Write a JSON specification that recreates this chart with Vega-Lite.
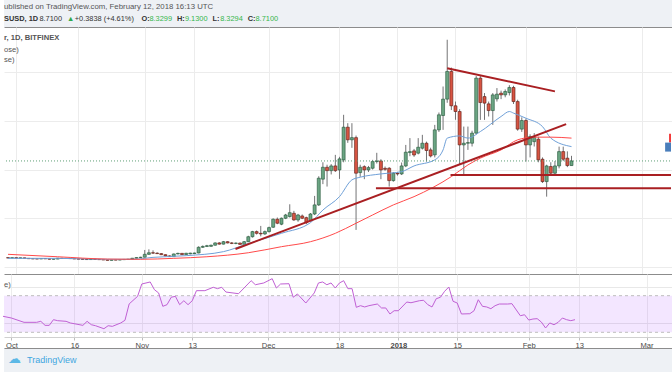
{
"$schema": "https://vega.github.io/schema/vega-lite/v6.json",
"background": "#ffffff",
"padding": 0,
"spacing": 0,
"bounds": "flush",
"config": {"view": {"stroke": null}, "font": "Liberation Sans", "text": {"font": "Liberation Sans"}},
"resolve": {"scale": {"x": "independent", "y": "independent"}},
"datasets": {
"candles": [
{"d":"2017-09-29","o":0.74,"h":0.79,"l":0.70,"c":0.72},
{"d":"2017-09-30","o":0.72,"h":0.76,"l":0.70,"c":0.74},
{"d":"2017-10-01","o":0.74,"h":0.76,"l":0.69,"c":0.71},
{"d":"2017-10-02","o":0.71,"h":0.75,"l":0.69,"c":0.73},
{"d":"2017-10-03","o":0.73,"h":0.74,"l":0.67,"c":0.69},
{"d":"2017-10-04","o":0.69,"h":0.71,"l":0.65,"c":0.66},
{"d":"2017-10-05","o":0.66,"h":0.68,"l":0.63,"c":0.65},
{"d":"2017-10-06","o":0.65,"h":0.67,"l":0.63,"c":0.64},
{"d":"2017-10-07","o":0.64,"h":0.68,"l":0.63,"c":0.67},
{"d":"2017-10-08","o":0.67,"h":0.69,"l":0.64,"c":0.65},
{"d":"2017-10-09","o":0.65,"h":0.66,"l":0.60,"c":0.62},
{"d":"2017-10-10","o":0.62,"h":0.64,"l":0.60,"c":0.63},
{"d":"2017-10-11","o":0.63,"h":0.72,"l":0.62,"c":0.70},
{"d":"2017-10-12","o":0.70,"h":0.72,"l":0.66,"c":0.68},
{"d":"2017-10-13","o":0.68,"h":0.71,"l":0.66,"c":0.69},
{"d":"2017-10-14","o":0.69,"h":0.71,"l":0.66,"c":0.67},
{"d":"2017-10-15","o":0.67,"h":0.69,"l":0.63,"c":0.64},
{"d":"2017-10-16","o":0.64,"h":0.66,"l":0.62,"c":0.63},
{"d":"2017-10-17","o":0.63,"h":0.65,"l":0.60,"c":0.61},
{"d":"2017-10-18","o":0.61,"h":0.62,"l":0.57,"c":0.59},
{"d":"2017-10-19","o":0.59,"h":0.65,"l":0.58,"c":0.63},
{"d":"2017-10-20","o":0.63,"h":0.64,"l":0.59,"c":0.60},
{"d":"2017-10-21","o":0.60,"h":0.62,"l":0.57,"c":0.58},
{"d":"2017-10-22","o":0.58,"h":0.59,"l":0.55,"c":0.56},
{"d":"2017-10-23","o":0.56,"h":0.58,"l":0.52,"c":0.53},
{"d":"2017-10-24","o":0.53,"h":0.57,"l":0.52,"c":0.56},
{"d":"2017-10-25","o":0.56,"h":0.58,"l":0.54,"c":0.55},
{"d":"2017-10-26","o":0.55,"h":0.59,"l":0.54,"c":0.58},
{"d":"2017-10-27","o":0.58,"h":0.61,"l":0.57,"c":0.60},
{"d":"2017-10-28","o":0.60,"h":0.63,"l":0.58,"c":0.62},
{"d":"2017-10-29","o":0.62,"h":0.72,"l":0.61,"c":0.70},
{"d":"2017-10-30","o":0.70,"h":0.78,"l":0.68,"c":0.75},
{"d":"2017-10-31","o":0.75,"h":0.82,"l":0.72,"c":0.78},
{"d":"2017-11-01","o":0.78,"h":1.38,"l":0.75,"c":1.02},
{"d":"2017-11-02","o":1.02,"h":1.43,"l":0.98,"c":1.15},
{"d":"2017-11-03","o":1.15,"h":1.35,"l":1.05,"c":1.12},
{"d":"2017-11-04","o":1.12,"h":1.18,"l":1.04,"c":1.08},
{"d":"2017-11-05","o":1.08,"h":1.12,"l":0.96,"c":0.99},
{"d":"2017-11-06","o":0.99,"h":1.02,"l":0.86,"c":0.89},
{"d":"2017-11-07","o":0.89,"h":0.94,"l":0.80,"c":0.83},
{"d":"2017-11-08","o":0.83,"h":1.08,"l":0.82,"c":1.05},
{"d":"2017-11-09","o":1.05,"h":1.15,"l":1.02,"c":1.10},
{"d":"2017-11-10","o":1.10,"h":1.13,"l":0.96,"c":1.00},
{"d":"2017-11-11","o":1.00,"h":1.14,"l":0.98,"c":1.11},
{"d":"2017-11-12","o":1.06,"h":1.15,"l":1.02,"c":1.12},
{"d":"2017-11-13","o":1.08,"h":1.16,"l":1.05,"c":1.13},
{"d":"2017-11-14","o":1.13,"h":1.68,"l":1.10,"c":1.60},
{"d":"2017-11-15","o":1.60,"h":1.75,"l":1.55,"c":1.67},
{"d":"2017-11-16","o":1.67,"h":1.80,"l":1.62,"c":1.73},
{"d":"2017-11-17","o":1.68,"h":1.82,"l":1.64,"c":1.77},
{"d":"2017-11-18","o":1.77,"h":2.00,"l":1.74,"c":1.96},
{"d":"2017-11-19","o":1.96,"h":2.02,"l":1.82,"c":1.86},
{"d":"2017-11-20","o":1.86,"h":2.12,"l":1.83,"c":2.06},
{"d":"2017-11-21","o":2.06,"h":2.10,"l":1.92,"c":1.96},
{"d":"2017-11-22","o":1.96,"h":2.02,"l":1.86,"c":1.92},
{"d":"2017-11-23","o":1.92,"h":1.99,"l":1.85,"c":1.95},
{"d":"2017-11-24","o":1.95,"h":1.98,"l":1.80,"c":1.84},
{"d":"2017-11-25","o":1.84,"h":2.12,"l":1.80,"c":2.06},
{"d":"2017-11-26","o":2.06,"h":2.55,"l":2.02,"c":2.47},
{"d":"2017-11-27","o":2.47,"h":2.95,"l":2.40,"c":2.89},
{"d":"2017-11-28","o":2.89,"h":2.98,"l":2.65,"c":2.75},
{"d":"2017-11-29","o":2.75,"h":3.36,"l":2.50,"c":2.70},
{"d":"2017-11-30","o":2.70,"h":2.98,"l":2.62,"c":2.89},
{"d":"2017-12-01","o":2.89,"h":3.30,"l":2.82,"c":3.22},
{"d":"2017-12-02","o":3.25,"h":3.98,"l":3.20,"c":3.91},
{"d":"2017-12-03","o":3.91,"h":4.05,"l":3.50,"c":3.58},
{"d":"2017-12-04","o":3.50,"h":4.05,"l":3.42,"c":3.99},
{"d":"2017-12-05","o":3.99,"h":4.35,"l":3.92,"c":4.26},
{"d":"2017-12-06","o":4.13,"h":5.14,"l":4.05,"c":4.45},
{"d":"2017-12-07","o":4.40,"h":4.60,"l":3.78,"c":3.85},
{"d":"2017-12-08","o":3.85,"h":4.35,"l":3.70,"c":4.26},
{"d":"2017-12-09","o":4.18,"h":4.30,"l":3.92,"c":3.99},
{"d":"2017-12-10","o":4.04,"h":4.12,"l":3.50,"c":3.63},
{"d":"2017-12-11","o":3.80,"h":4.42,"l":3.72,"c":4.34},
{"d":"2017-12-12","o":4.34,"h":5.83,"l":4.25,"c":5.09},
{"d":"2017-12-13","o":5.09,"h":7.45,"l":5.00,"c":7.29},
{"d":"2017-12-14","o":7.21,"h":8.60,"l":6.80,"c":8.19},
{"d":"2017-12-15","o":8.19,"h":8.40,"l":6.60,"c":7.91},
{"d":"2017-12-16","o":7.91,"h":8.45,"l":7.60,"c":8.30},
{"d":"2017-12-17","o":8.30,"h":9.21,"l":7.80,"c":7.91},
{"d":"2017-12-18","o":7.97,"h":9.05,"l":7.23,"c":8.88},
{"d":"2017-12-19","o":8.80,"h":12.51,"l":8.60,"c":11.49},
{"d":"2017-12-20","o":11.49,"h":11.82,"l":10.20,"c":10.45},
{"d":"2017-12-21","o":10.45,"h":11.82,"l":9.79,"c":10.63},
{"d":"2017-12-22","o":10.63,"h":10.80,"l":3.03,"c":7.70},
{"d":"2017-12-23","o":7.75,"h":8.40,"l":7.40,"c":8.19},
{"d":"2017-12-24","o":8.24,"h":8.35,"l":7.21,"c":7.97},
{"d":"2017-12-25","o":7.97,"h":8.30,"l":7.80,"c":8.16},
{"d":"2017-12-26","o":8.11,"h":8.80,"l":8.00,"c":8.66},
{"d":"2017-12-27","o":8.66,"h":9.38,"l":8.50,"c":8.71},
{"d":"2017-12-28","o":8.71,"h":8.85,"l":7.21,"c":7.97},
{"d":"2017-12-29","o":8.10,"h":8.25,"l":7.90,"c":8.02},
{"d":"2017-12-30","o":8.11,"h":8.20,"l":6.60,"c":7.09},
{"d":"2017-12-31","o":7.09,"h":7.80,"l":7.00,"c":7.70},
{"d":"2018-01-01","o":7.70,"h":7.80,"l":7.50,"c":7.64},
{"d":"2018-01-02","o":7.64,"h":8.58,"l":7.55,"c":8.30},
{"d":"2018-01-03","o":8.30,"h":10.03,"l":8.20,"c":9.43},
{"d":"2018-01-04","o":9.40,"h":10.59,"l":9.10,"c":9.48},
{"d":"2018-01-05","o":9.54,"h":9.70,"l":9.05,"c":9.20},
{"d":"2018-01-06","o":9.35,"h":10.59,"l":9.25,"c":9.84},
{"d":"2018-01-07","o":9.76,"h":10.86,"l":9.65,"c":10.17},
{"d":"2018-01-08","o":10.17,"h":10.30,"l":8.66,"c":9.57},
{"d":"2018-01-09","o":9.62,"h":9.80,"l":9.00,"c":9.12},
{"d":"2018-01-10","o":9.21,"h":11.68,"l":9.00,"c":11.27},
{"d":"2018-01-11","o":11.27,"h":12.70,"l":11.10,"c":12.51},
{"d":"2018-01-12","o":12.45,"h":14.84,"l":11.27,"c":13.80},
{"d":"2018-01-13","o":13.80,"h":18.69,"l":13.50,"c":16.08},
{"d":"2018-01-14","o":16.08,"h":16.40,"l":12.90,"c":13.25},
{"d":"2018-01-15","o":13.25,"h":13.60,"l":12.10,"c":12.78},
{"d":"2018-01-16","o":12.78,"h":12.97,"l":8.38,"c":10.03},
{"d":"2018-01-17","o":10.03,"h":11.54,"l":7.56,"c":10.17},
{"d":"2018-01-18","o":10.17,"h":11.54,"l":9.62,"c":10.22},
{"d":"2018-01-19","o":10.17,"h":11.20,"l":9.90,"c":11.00},
{"d":"2018-01-20","o":11.00,"h":15.70,"l":10.90,"c":15.53},
{"d":"2018-01-21","o":15.53,"h":15.70,"l":12.09,"c":13.52},
{"d":"2018-01-22","o":14.01,"h":14.30,"l":12.09,"c":13.47},
{"d":"2018-01-23","o":13.41,"h":13.60,"l":12.37,"c":12.86},
{"d":"2018-01-24","o":12.86,"h":14.30,"l":11.68,"c":14.15},
{"d":"2018-01-25","o":13.82,"h":14.71,"l":13.60,"c":14.21},
{"d":"2018-01-26","o":14.29,"h":14.50,"l":13.80,"c":14.15},
{"d":"2018-01-27","o":14.15,"h":14.60,"l":13.95,"c":14.43},
{"d":"2018-01-28","o":14.34,"h":14.95,"l":14.10,"c":14.76},
{"d":"2018-01-29","o":14.76,"h":14.90,"l":13.40,"c":13.60},
{"d":"2018-01-30","o":13.60,"h":13.75,"l":11.20,"c":11.33},
{"d":"2018-01-31","o":11.33,"h":12.30,"l":11.10,"c":12.04},
{"d":"2018-02-01","o":12.04,"h":12.20,"l":8.66,"c":10.03},
{"d":"2018-02-02","o":10.03,"h":10.90,"l":9.00,"c":10.72},
{"d":"2018-02-03","o":10.30,"h":11.00,"l":9.90,"c":10.66},
{"d":"2018-02-04","o":10.50,"h":10.70,"l":8.60,"c":8.80},
{"d":"2018-02-05","o":8.85,"h":9.00,"l":6.90,"c":7.01},
{"d":"2018-02-06","o":7.01,"h":8.40,"l":5.77,"c":8.30},
{"d":"2018-02-07","o":8.25,"h":8.60,"l":7.50,"c":7.70},
{"d":"2018-02-08","o":7.70,"h":8.70,"l":7.50,"c":8.30},
{"d":"2018-02-09","o":8.30,"h":9.89,"l":8.10,"c":9.48},
{"d":"2018-02-10","o":9.48,"h":9.89,"l":8.70,"c":8.85},
{"d":"2018-02-11","o":8.94,"h":9.50,"l":8.20,"c":8.33},
{"d":"2018-02-12","o":8.3299,"h":9.13,"l":8.3294,"c":8.71}
],
"ma": [
{"k":"a","d":"2017-09-29","v":0.69},{"k":"a","d":"2017-10-11","v":0.69},{"k":"a","d":"2017-10-23","v":0.61},{"k":"a","d":"2017-10-29","v":0.61},
{"k":"a","d":"2017-11-03","v":0.77},{"k":"a","d":"2017-11-11","v":0.91},{"k":"a","d":"2017-11-20","v":1.24},{"k":"a","d":"2017-11-26","v":1.91},
{"k":"a","d":"2017-12-04","v":2.75},{"k":"a","d":"2017-12-11","v":3.63},{"k":"a","d":"2017-12-14","v":4.67},{"k":"a","d":"2017-12-18","v":5.77},
{"k":"a","d":"2017-12-21","v":7.15},{"k":"a","d":"2017-12-23","v":7.37},{"k":"a","d":"2017-12-28","v":7.64},{"k":"a","d":"2018-01-02","v":7.83},
{"k":"a","d":"2018-01-05","v":8.30},{"k":"a","d":"2018-01-10","v":8.80},{"k":"a","d":"2018-01-12","v":9.62},{"k":"a","d":"2018-01-13","v":10.59},
{"k":"a","d":"2018-01-16","v":10.77},{"k":"a","d":"2018-01-18","v":10.59},{"k":"a","d":"2018-01-21","v":11.13},{"k":"a","d":"2018-01-26","v":12.37},
{"k":"a","d":"2018-01-28","v":12.78},{"k":"a","d":"2018-01-29","v":12.65},{"k":"a","d":"2018-02-01","v":12.23},{"k":"a","d":"2018-02-05","v":11.54},
{"k":"a","d":"2018-02-07","v":10.59},{"k":"a","d":"2018-02-12","v":9.89},
{"k":"b","d":"2017-09-29","v":1.02},{"k":"b","d":"2017-10-11","v":0.82},{"k":"b","d":"2017-10-23","v":0.63},{"k":"b","d":"2017-10-31","v":0.61},
{"k":"b","d":"2017-11-08","v":0.69},{"k":"b","d":"2017-11-16","v":0.82},{"k":"b","d":"2017-11-26","v":1.15},{"k":"b","d":"2017-12-04","v":1.65},
{"k":"b","d":"2017-12-11","v":2.06},{"k":"b","d":"2017-12-17","v":2.75},{"k":"b","d":"2017-12-22","v":3.58},{"k":"b","d":"2017-12-26","v":4.26},
{"k":"b","d":"2017-12-31","v":5.09},{"k":"b","d":"2018-01-05","v":5.77},{"k":"b","d":"2018-01-14","v":7.42},{"k":"b","d":"2018-01-18","v":8.38},
{"k":"b","d":"2018-01-21","v":8.94},{"k":"b","d":"2018-01-26","v":9.62},{"k":"b","d":"2018-01-30","v":10.45},{"k":"b","d":"2018-02-03","v":10.67},
{"k":"b","d":"2018-02-07","v":10.67},{"k":"b","d":"2018-02-12","v":10.59}
],
"rsi": [
{"d":"2017-09-29","v":47.5},{"d":"2017-10-01","v":45.6},{"d":"2017-10-04","v":40.9},{"d":"2017-10-07","v":40.9},{"d":"2017-10-08","v":42},
{"d":"2017-10-09","v":37.6},{"d":"2017-10-10","v":37.6},{"d":"2017-10-11","v":43.8},{"d":"2017-10-12","v":42.7},{"d":"2017-10-14","v":42},
{"d":"2017-10-15","v":40.2},{"d":"2017-10-18","v":37.6},{"d":"2017-10-19","v":42},{"d":"2017-10-20","v":38.3},{"d":"2017-10-21","v":37.2},
{"d":"2017-10-23","v":33.9},{"d":"2017-10-24","v":37.2},{"d":"2017-10-25","v":36.5},{"d":"2017-10-27","v":40.2},{"d":"2017-10-28","v":43.1},
{"d":"2017-10-29","v":61},{"d":"2017-10-31","v":69.3},{"d":"2017-11-01","v":82.8},{"d":"2017-11-03","v":85},{"d":"2017-11-04","v":76.6},
{"d":"2017-11-05","v":73},{"d":"2017-11-06","v":58.4},{"d":"2017-11-07","v":60.2},{"d":"2017-11-08","v":68.3},{"d":"2017-11-09","v":69.3},
{"d":"2017-11-10","v":60.2},{"d":"2017-11-11","v":64.5},{"d":"2017-11-12","v":60.2},{"d":"2017-11-13","v":64.5},{"d":"2017-11-14","v":75.5},
{"d":"2017-11-16","v":75.5},{"d":"2017-11-18","v":79.2},{"d":"2017-11-19","v":77.7},{"d":"2017-11-20","v":79.2},{"d":"2017-11-21","v":74},
{"d":"2017-11-24","v":72.2},{"d":"2017-11-27","v":86.4},{"d":"2017-11-28","v":82},{"d":"2017-11-30","v":83.9},{"d":"2017-12-02","v":88.6},
{"d":"2017-12-03","v":78.4},{"d":"2017-12-04","v":82.8},{"d":"2017-12-06","v":83.1},{"d":"2017-12-07","v":68.3},{"d":"2017-12-08","v":71.9},
{"d":"2017-12-10","v":62},{"d":"2017-12-12","v":73},{"d":"2017-12-13","v":83.9},{"d":"2017-12-14","v":85},{"d":"2017-12-15","v":82},
{"d":"2017-12-16","v":83.9},{"d":"2017-12-17","v":78.4},{"d":"2017-12-18","v":83.9},{"d":"2017-12-19","v":86.4},{"d":"2017-12-20","v":77.7},
{"d":"2017-12-21","v":77.7},{"d":"2017-12-22","v":57.3},{"d":"2017-12-23","v":59.1},{"d":"2017-12-24","v":57.7},{"d":"2017-12-25","v":59.1},
{"d":"2017-12-27","v":60.9},{"d":"2017-12-28","v":56.6},{"d":"2017-12-29","v":56.6},{"d":"2017-12-30","v":50},{"d":"2017-12-31","v":53.6},
{"d":"2018-01-01","v":53.6},{"d":"2018-01-03","v":63.1},{"d":"2018-01-04","v":62.3},{"d":"2018-01-06","v":64.5},{"d":"2018-01-07","v":65},
{"d":"2018-01-08","v":60.2},{"d":"2018-01-09","v":57.7},{"d":"2018-01-10","v":66.7},{"d":"2018-01-11","v":68.3},{"d":"2018-01-12","v":74.8},
{"d":"2018-01-13","v":79.5},{"d":"2018-01-14","v":63.9},{"d":"2018-01-15","v":62},{"d":"2018-01-16","v":50},{"d":"2018-01-18","v":50.3},
{"d":"2018-01-19","v":53.6},{"d":"2018-01-20","v":65.6},{"d":"2018-01-21","v":58.4},{"d":"2018-01-22","v":57.7},{"d":"2018-01-23","v":55.8},
{"d":"2018-01-24","v":59.1},{"d":"2018-01-25","v":60.9},{"d":"2018-01-27","v":60.9},{"d":"2018-01-28","v":61.3},{"d":"2018-01-30","v":48.1},
{"d":"2018-01-31","v":49.2},{"d":"2018-02-01","v":43.4},{"d":"2018-02-02","v":44.5},{"d":"2018-02-03","v":44.9},{"d":"2018-02-04","v":41.2},
{"d":"2018-02-05","v":34.7},{"d":"2018-02-06","v":40.2},{"d":"2018-02-07","v":38.3},{"d":"2018-02-08","v":40.9},{"d":"2018-02-09","v":45.6},
{"d":"2018-02-10","v":43.8},{"d":"2018-02-11","v":42.7},{"d":"2018-02-12","v":43.8}
],
"trend": [
{"x":"2017-11-22T21:36:00Z","y":1.46,"x2":"2018-02-10T16:48:00Z","y2":11.74},
{"x":"2018-01-13T00:00:00Z","y":16.34,"x2":"2018-02-08T00:00:00Z","y2":14.44},
{"x":"2018-01-13T19:12:00Z","y":7.55,"x2":"2018-03-08T00:15:00Z","y2":7.55},
{"x":"2017-12-26T19:12:00Z","y":6.46,"x2":"2018-03-08T00:15:00Z","y2":6.46}
]
},
"vconcat": [
{
"width": 672, "height": 27,
"view": {"fill": "#eef1f5"},
"layer": [
{"data": {"values": [{"d": "2017-10-01"}]}, "mark": {"type": "point", "opacity": 0},
 "encoding": {"x": {"field": "d", "type": "temporal",
  "scale": {"type": "utc", "nice": false, "domain": [{"year":2017,"month":9,"date":29,"hours":5,"minutes":47,"utc":true},{"year":2018,"month":3,"date":8,"hours":0,"minutes":15,"utc":true}]},
  "axis": {"orient": "bottom", "labels": false, "ticks": false, "grid": false, "domainColor": "#8c8c8c", "title": null}}}},
{"data": {"values": [{"t": "ublished on TradingView.com, February 12, 2018 16:13 UTC"}]}, "mark": {"type": "text", "align": "left", "baseline": "middle", "fontSize": 7.8, "color": "#555555"}, "encoding": {"text": {"field": "t"}, "x": {"value": 0}, "y": {"value": 7}}},
{"data": {"values": [{"t": "SUSD, 1D"}]}, "mark": {"type": "text", "align": "left", "baseline": "middle", "fontSize": 7.4, "fontWeight": "bold", "color": "#333333"}, "encoding": {"text": {"field": "t"}, "x": {"value": 0}, "y": {"value": 18.5}}},
{"data": {"values": [{"t": "8.7100"}]}, "mark": {"type": "text", "align": "left", "baseline": "middle", "fontSize": 7.4, "color": "#333333"}, "encoding": {"text": {"field": "t"}, "x": {"value": 35.4}, "y": {"value": 18.5}}},
{"data": {"values": [{"t": "▲"}]}, "mark": {"type": "text", "align": "left", "baseline": "middle", "fontSize": 7.4, "color": "#2ea84a"}, "encoding": {"text": {"field": "t"}, "x": {"value": 63}, "y": {"value": 18.5}}},
{"data": {"values": [{"t": "+0.3838 (+4.61%)"}]}, "mark": {"type": "text", "align": "left", "baseline": "middle", "fontSize": 7.4, "color": "#333333"}, "encoding": {"text": {"field": "t"}, "x": {"value": 70.7}, "y": {"value": 18.5}}},
{"data": {"values": [{"t": "O:"}]}, "mark": {"type": "text", "align": "left", "baseline": "middle", "fontSize": 7.4, "fontWeight": "bold", "color": "#333333"}, "encoding": {"text": {"field": "t"}, "x": {"value": 137.5}, "y": {"value": 18.5}}},
{"data": {"values": [{"t": "8.3299"}]}, "mark": {"type": "text", "align": "left", "baseline": "middle", "fontSize": 7.4, "color": "#35b64c"}, "encoding": {"text": {"field": "t"}, "x": {"value": 145.4}, "y": {"value": 18.5}}},
{"data": {"values": [{"t": "H:"}]}, "mark": {"type": "text", "align": "left", "baseline": "middle", "fontSize": 7.4, "fontWeight": "bold", "color": "#333333"}, "encoding": {"text": {"field": "t"}, "x": {"value": 173}, "y": {"value": 18.5}}},
{"data": {"values": [{"t": "9.1300"}]}, "mark": {"type": "text", "align": "left", "baseline": "middle", "fontSize": 7.4, "color": "#35b64c"}, "encoding": {"text": {"field": "t"}, "x": {"value": 180.9}, "y": {"value": 18.5}}},
{"data": {"values": [{"t": "L:"}]}, "mark": {"type": "text", "align": "left", "baseline": "middle", "fontSize": 7.4, "fontWeight": "bold", "color": "#333333"}, "encoding": {"text": {"field": "t"}, "x": {"value": 208.4}, "y": {"value": 18.5}}},
{"data": {"values": [{"t": "8.3294"}]}, "mark": {"type": "text", "align": "left", "baseline": "middle", "fontSize": 7.4, "color": "#35b64c"}, "encoding": {"text": {"field": "t"}, "x": {"value": 216.2}, "y": {"value": 18.5}}},
{"data": {"values": [{"t": "C:"}]}, "mark": {"type": "text", "align": "left", "baseline": "middle", "fontSize": 7.4, "fontWeight": "bold", "color": "#333333"}, "encoding": {"text": {"field": "t"}, "x": {"value": 243.7}, "y": {"value": 18.5}}},
{"data": {"values": [{"t": "8.7100"}]}, "mark": {"type": "text", "align": "left", "baseline": "middle", "fontSize": 7.4, "color": "#35b64c"}, "encoding": {"text": {"field": "t"}, "x": {"value": 251.5}, "y": {"value": 18.5}}}
]
},
{
"width": 672, "height": 247,
"layer": [
{"data": {"name": "candles"}, "mark": {"type": "rule", "color": "#737375", "strokeWidth": 1},
 "encoding": {
  "x": {"field": "d", "type": "temporal",
   "scale": {"type": "utc", "nice": false, "domain": [{"year":2017,"month":9,"date":29,"hours":5,"minutes":47,"utc":true},{"year":2018,"month":3,"date":8,"hours":0,"minutes":15,"utc":true}]},
   "axis": {"orient": "bottom", "values": [{"year":2017,"month":10,"date":1,"utc":true},{"year":2017,"month":10,"date":16,"utc":true},{"year":2017,"month":11,"date":1,"utc":true},{"year":2017,"month":11,"date":13,"utc":true},{"year":2017,"month":12,"date":1,"utc":true},{"year":2017,"month":12,"date":18,"utc":true},{"year":2018,"month":1,"date":1,"utc":true},{"year":2018,"month":1,"date":15,"utc":true},{"year":2018,"month":2,"date":1,"utc":true},{"year":2018,"month":2,"date":13,"utc":true},{"year":2018,"month":3,"date":1,"utc":true}],
    "labels": false, "ticks": false, "grid": true, "gridColor": "#ececec", "domainColor": "#8c8c8c", "title": null}},
  "y": {"field": "l", "type": "quantitative", "scale": {"domain": [-0.6, 19.74], "nice": false, "zero": false},
   "axis": {"orient": "right", "values": [0,2,4,6,8,10,12,14,16,18], "labels": false, "ticks": false, "domain": false, "grid": true, "gridColor": "#ececec", "title": null}},
  "y2": {"field": "h"}
 }},
{"data": {"name": "candles"}, "mark": {"type": "bar", "width": 3, "strokeWidth": 0.6},
 "encoding": {
  "x": {"field": "d", "type": "temporal"},
  "y": {"field": "o", "type": "quantitative"},
  "y2": {"field": "c"},
  "fill": {"condition": {"test": "datum.c >= datum.o", "value": "#6ba583"}, "value": "#d75442"},
  "stroke": {"condition": {"test": "datum.c >= datum.o", "value": "#225437"}, "value": "#5b1a13"}
 }},
{"data": {"name": "ma"}, "mark": {"type": "line", "strokeWidth": 1, "interpolate": "monotone"},
 "encoding": {
  "x": {"field": "d", "type": "temporal"},
  "y": {"field": "v", "type": "quantitative"},
  "color": {"field": "k", "type": "nominal", "scale": {"domain": ["a", "b"], "range": ["#6fa0d8", "#ff4a4a"]}, "legend": null}
 }},
{"data": {"values": [{"p": 8.71}]}, "mark": {"type": "rule", "color": "#5f9f76", "strokeDash": [1, 2], "strokeWidth": 1},
 "encoding": {"y": {"field": "p", "type": "quantitative"}}},
{"data": {"name": "trend"}, "mark": {"type": "rule", "color": "#a91f22", "strokeWidth": 2},
 "encoding": {
  "x": {"field": "x", "type": "temporal"},
  "x2": {"field": "x2"},
  "y": {"field": "y", "type": "quantitative"},
  "y2": {"field": "y2"}
 }},
{"data": {"values": [{"a": "2018-03-07T13:00:00Z", "b": "2018-03-08T00:15:00Z", "lo": 10.23, "hi": 10.94}]},
 "mark": {"type": "rect", "fill": "#f23a3a"},
 "encoding": {
  "x": {"field": "a", "type": "temporal"},
  "x2": {"field": "b"},
  "y": {"field": "lo", "type": "quantitative"},
  "y2": {"field": "hi"}
 }},
{"data": {"values": [{"a": "2018-03-06T14:10:00Z", "b": "2018-03-08T00:15:00Z", "lo": 9.48, "hi": 10.22}]},
 "mark": {"type": "rect", "fill": "#4a7ebb"},
 "encoding": {
  "x": {"field": "a", "type": "temporal"},
  "x2": {"field": "b"},
  "y": {"field": "lo", "type": "quantitative"},
  "y2": {"field": "hi"}
 }},
{"data": {"values": [{"t": "r, 1D, BITFINEX"}]}, "mark": {"type": "text", "align": "left", "baseline": "middle", "fontSize": 7.6, "fontWeight": "bold", "color": "#555555"}, "encoding": {"text": {"field": "t"}, "x": {"value": 0}, "y": {"value": 11}}},
{"data": {"values": [{"t": "ose)"}]}, "mark": {"type": "text", "align": "left", "baseline": "middle", "fontSize": 7.6, "color": "#555555"}, "encoding": {"text": {"field": "t"}, "x": {"value": 0}, "y": {"value": 22.5}}},
{"data": {"values": [{"t": "se)"}]}, "mark": {"type": "text", "align": "left", "baseline": "middle", "fontSize": 7.6, "color": "#555555"}, "encoding": {"text": {"field": "t"}, "x": {"value": 0}, "y": {"value": 33}}}
]
},
{
"width": 672, "height": 63,
"layer": [
{"data": {"values": [{"lo": 30, "hi": 70}]}, "mark": {"type": "rect", "fill": "#9b30ff", "opacity": 0.12},
 "encoding": {
  "y": {"field": "lo", "type": "quantitative", "scale": {"domain": [24.86, 93.72], "nice": false, "zero": false},
   "axis": {"orient": "right", "values": [40, 60, 80], "labels": false, "ticks": false, "domain": false, "grid": true, "gridColor": "#e8e8e8", "title": null}},
  "y2": {"field": "hi"}
 }},
{"data": {"values": [{"v": 70}, {"v": 30}]}, "mark": {"type": "rule", "color": "#bdbdbd", "strokeDash": [3, 3], "strokeWidth": 1},
 "encoding": {"y": {"field": "v", "type": "quantitative"}}},
{"data": {"name": "rsi"}, "mark": {"type": "line", "color": "#c060d4", "strokeWidth": 1},
 "encoding": {
  "x": {"field": "d", "type": "temporal",
   "scale": {"type": "utc", "nice": false, "domain": [{"year":2017,"month":9,"date":29,"hours":5,"minutes":47,"utc":true},{"year":2018,"month":3,"date":8,"hours":0,"minutes":15,"utc":true}]},
   "axis": {"orient": "bottom", "values": [{"year":2017,"month":10,"date":1,"utc":true},{"year":2017,"month":10,"date":16,"utc":true},{"year":2017,"month":11,"date":1,"utc":true},{"year":2017,"month":11,"date":13,"utc":true},{"year":2017,"month":12,"date":1,"utc":true},{"year":2017,"month":12,"date":18,"utc":true},{"year":2018,"month":1,"date":1,"utc":true},{"year":2018,"month":1,"date":15,"utc":true},{"year":2018,"month":2,"date":1,"utc":true},{"year":2018,"month":2,"date":13,"utc":true},{"year":2018,"month":3,"date":1,"utc":true}],
    "labelExpr": "utcdate(datum.value) == 1 ? (utcmonth(datum.value) == 0 ? utcFormat(datum.value, '%Y') : utcFormat(datum.value, '%b')) : utcFormat(datum.value, '%-d')",
    "labelFontWeight": {"condition": {"test": "utcmonth(datum.value) == 0 && utcdate(datum.value) == 1", "value": "bold"}, "value": "normal"},
    "labelFontSize": 7.6, "labelColor": "#4a4a4a", "labelFont": "Liberation Sans", "labelFlush": false, "labelOverlap": false, "labelPadding": 1,
    "tickSize": 3, "tickColor": "#bdbdbd", "domainColor": "#d0d0d0", "grid": true, "gridColor": "#ececec", "title": null}},
  "y": {"field": "v", "type": "quantitative"}
 }},
{"data": {"values": [{"a": "2018-03-07T07:00:00Z", "b": "2018-03-08T00:15:00Z", "lo": 38, "hi": 48.9}]}, "mark": {"type": "rect", "fill": "#8e24aa"},
 "encoding": {
  "x": {"field": "a", "type": "temporal"},
  "x2": {"field": "b"},
  "y": {"field": "lo", "type": "quantitative"},
  "y2": {"field": "hi"}
 }},
{"data": {"values": [{"t": "e)"}]}, "mark": {"type": "text", "align": "left", "baseline": "middle", "fontSize": 7.6, "color": "#555555"}, "encoding": {"text": {"field": "t"}, "x": {"value": 0}, "y": {"value": 11}}}
]
},
{
"width": 672, "height": 11,
"data": {"values": [{}]},
"mark": {"type": "point", "opacity": 0}
},
{
"width": 672, "height": 24,
"view": {"fill": "#eef1f5"},
"layer": [
{"data": {"values": [{"d": "2017-10-01"}]}, "mark": {"type": "point", "opacity": 0},
 "encoding": {"x": {"field": "d", "type": "temporal",
  "scale": {"type": "utc", "nice": false, "domain": [{"year":2017,"month":9,"date":29,"hours":5,"minutes":47,"utc":true},{"year":2018,"month":3,"date":8,"hours":0,"minutes":15,"utc":true}]},
  "axis": {"orient": "top", "labels": false, "ticks": false, "grid": false, "domainColor": "#8c8c8c", "title": null}}}},
{"data": {"values": [{"t": "☁"}]}, "mark": {"type": "text", "align": "left", "baseline": "middle", "fontSize": 13, "font": "DejaVu Sans", "color": "#5cb8e6"}, "encoding": {"text": {"field": "t"}, "x": {"value": 4}, "y": {"value": 11}}},
{"data": {"values": [{"t": "TradingView"}]}, "mark": {"type": "text", "align": "left", "baseline": "middle", "fontSize": 9, "color": "#3ea6e0"}, "encoding": {"text": {"field": "t"}, "x": {"value": 23}, "y": {"value": 12}}}
]
}
]
}
